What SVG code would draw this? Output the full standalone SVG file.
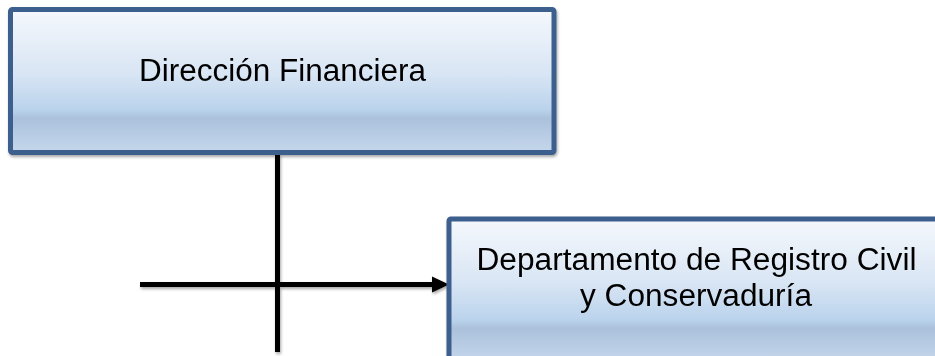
<svg xmlns="http://www.w3.org/2000/svg" width="935" height="356" viewBox="0 0 935 356">
<defs>
<linearGradient id="boxGrad" x1="0" y1="0" x2="0" y2="1">
<stop offset="0" stop-color="#f5f8fc"/>
<stop offset="0.45" stop-color="#d8e5f4"/>
<stop offset="0.7" stop-color="#bad3ec"/>
<stop offset="0.76" stop-color="#abc1dc"/>
<stop offset="1" stop-color="#c5d7ec"/>
</linearGradient>
<filter id="shadow" x="-5%" y="-5%" width="110%" height="115%">
<feGaussianBlur in="SourceAlpha" stdDeviation="1.5"/>
<feOffset dx="1" dy="2" result="b"/>
<feComponentTransfer><feFuncA type="linear" slope="0.35"/></feComponentTransfer>
<feMerge><feMergeNode/><feMergeNode in="SourceGraphic"/></feMerge>
</filter>
</defs>
<style>
.box { fill: url(#boxGrad); stroke: #3c5f8d; stroke-width: 5; }
.lbl { font-family: "Liberation Sans", Arial, sans-serif; font-size: 31px; fill: #000; text-anchor: middle; }
.conn { stroke: #000; stroke-width: 5; fill: none; }
.head { fill: #000; }
</style>
<g id="connectors" filter="url(#shadow)">
<line class="conn" x1="277.5" y1="154" x2="277.5" y2="352"/>
<line class="conn" x1="140" y1="284.5" x2="436" y2="284.5"/>
<path class="head" d="M432,276.5 L449,284.5 L432,292.5 Z"/>
</g>
<g id="node-direccion" filter="url(#shadow)">
<rect class="box" x="10.5" y="9.5" width="543.5" height="143" rx="2"/>
<text class="lbl" x="282.5" y="81" textLength="287" lengthAdjust="spacingAndGlyphs">Dirección Financiera</text>
</g>
<g id="node-departamento" filter="url(#shadow)">
<rect class="box" x="449" y="219" width="495" height="144" rx="2"/>
<text class="lbl" x="696.5" y="270" textLength="440" lengthAdjust="spacingAndGlyphs">Departamento de Registro Civil</text>
<text class="lbl" x="696" y="306" textLength="232" lengthAdjust="spacingAndGlyphs">y Conservaduría</text>
</g>
</svg>
